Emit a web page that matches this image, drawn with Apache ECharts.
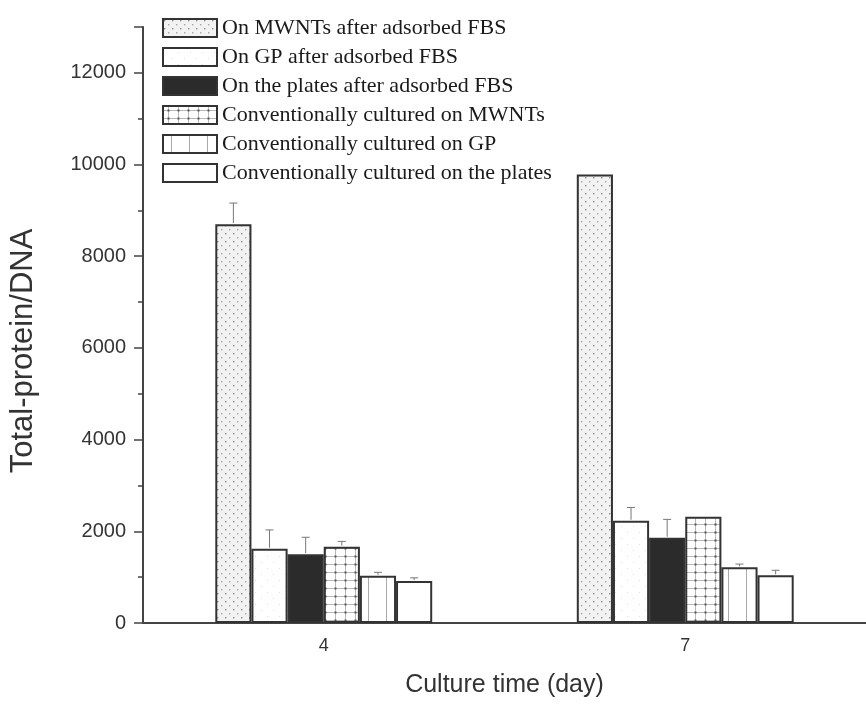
<!DOCTYPE html>
<html>
<head>
<meta charset="utf-8">
<script src="https://cdn.jsdelivr.net/npm/echarts@6/dist/echarts.min.js"></script>
<style>
html,body{margin:0;padding:0;background:#fff;}
#chart{width:866px;height:721px;}
</style>
</head>
<body>
<div id="chart"></div>
<script>
// ---- data ----
const categories = ['4', '7'];
const seriesNames = [
  'On MWNTs after adsorbed FBS',
  'On GP after adsorbed FBS',
  'On the plates after adsorbed FBS',
  'Conventionally cultured on MWNTs',
  'Conventionally cultured on GP',
  'Conventionally cultured on the plates'
];
const mwntFBS = [8700, 9780];
const gpFBS = [1620, 2230];
const platesFBS = [1500, 1860];
const convMWNT = [1665, 2320];
const convGP = [1030, 1215];
const convPlates = [915, 1040];
const errMwntFBS = [460, 0];
const errGpFBS = [410, 290];
const errPlatesFBS = [370, 400];
const errConvMWNT = [115, 0];
const errConvGP = [75, 70];
const errConvPlates = [70, 110];
const yTicks = [0, 2000, 4000, 6000, 8000, 10000, 12000];

const values = [mwntFBS, gpFBS, platesFBS, convMWNT, convGP, convPlates];
const errors = [errMwntFBS, errGpFBS, errPlatesFBS, errConvMWNT, errConvGP, errConvPlates];

// ---- patterns ----
function tile(w, h, bg, draw) {
  const c = document.createElement('canvas');
  c.width = w; c.height = h;
  const g = c.getContext('2d');
  g.fillStyle = bg; g.fillRect(0, 0, w, h);
  draw(g);
  return { image: c, repeat: 'repeat' };
}
const patDots = tile(8, 8, '#f2f2f2', g => {
  g.fillStyle = '#8a8a8a';
  g.fillRect(1, 1, 1.4, 1.4);
  g.fillStyle = '#a8a8a8';
  g.fillRect(5, 5, 1.4, 1.4);
});
const patFaint = tile(12, 12, '#ffffff', g => {
  g.fillStyle = '#e2e2e2';
  g.fillRect(3, 4, 1, 1);
  g.fillRect(9, 10, 1, 1);
});
const patGrid = tile(10, 8, '#ffffff', g => {
  g.fillStyle = '#b8b8b8';
  g.fillRect(0, 4, 10, 1);
  g.fillRect(5, 0, 1, 8);
  g.fillStyle = '#555';
  g.fillRect(4.5, 3.5, 2, 2);
});
const patVert = tile(18, 4, '#ffffff', g => {
  g.fillStyle = '#aaaaaa';
  g.fillRect(8, 0, 1, 4);
});
const fills = [patDots, patFaint, '#2b2b2b', patGrid, patVert, '#ffffff'];

const series = values.map((v, i) => ({
  name: seriesNames[i],
  type: 'bar',
  data: v,
  barGap: '0%',
  barCategoryGap: '40%',
  itemStyle: { color: fills[i], borderColor: '#333', borderWidth: 2 },
  emphasis: { disabled: true },
  z: 2
}));

const errData = [];
values.forEach((v, i) => v.forEach((val, c) => {
  if (errors[i][c] > 0) errData.push([c, val + errors[i][c], val, i]);
}));

series.push({
  type: 'custom',
  name: 'err',
  data: errData,
  z: 3,
  renderItem: function (params, api) {
    const cat = api.value(0);
    const top = api.coord([cat, api.value(1)]);
    const base = api.coord([cat, api.value(2)]);
    const band = api.size([1, 0])[0];
    const bw = band * 0.1;
    const x = top[0] + (api.value(3) - 2.5) * bw;
    const half = 4;
    const st = { stroke: '#777', lineWidth: 1 };
    return {
      type: 'group',
      children: [
        { type: 'line', shape: { x1: x, y1: base[1] - 1, x2: x, y2: top[1] }, style: st },
        { type: 'line', shape: { x1: x - half, y1: top[1], x2: x + half, y2: top[1] }, style: st }
      ]
    };
  }
});

const chart = echarts.init(document.getElementById('chart'), null, { renderer: 'canvas' });
chart.setOption({
  animation: false,
  backgroundColor: '#ffffff',
  grid: { left: 141, top: 27, width: 730, height: 596, containLabel: false },
  legend: {
    data: seriesNames,
    orient: 'vertical',
    left: 157,
    top: 12,
    itemWidth: 54,
    itemHeight: 18,
    itemGap: 7,
    icon: 'rect',
    selectedMode: false,
    textStyle: { fontFamily: 'Liberation Serif', fontSize: 22, color: '#1a1a1a' }
  },
  xAxis: {
    type: 'category',
    data: categories,
    name: 'Culture time (day)',
    nameLocation: 'middle',
    nameGap: 50,
    nameTextStyle: { fontFamily: 'Liberation Sans', fontSize: 25, color: '#333' },
    axisLine: { lineStyle: { color: '#444', width: 2 } },
    axisTick: { alignWithLabel: true, length: 11, lineStyle: { color: '#444', width: 2 } },
    axisLabel: { fontFamily: 'Liberation Sans', fontSize: 18, color: '#333', margin: 14 }
  },
  yAxis: {
    type: 'value',
    min: 0,
    max: 13000,
    interval: 2000,
    name: 'Total-protein/DNA',
    nameLocation: 'middle',
    nameGap: 104,
    nameTextStyle: { fontFamily: 'Liberation Sans', fontSize: 31, color: '#333', padding: [0, 52, 0, 0] },
    axisLine: { show: true, lineStyle: { color: '#444', width: 2 } },
    axisTick: { show: true, length: 9, lineStyle: { color: '#444', width: 1.5 } },
    minorTick: { show: true, splitNumber: 2, length: 5, lineStyle: { color: '#444', width: 1.5 } },
    splitLine: { show: false },
    axisLabel: {
      fontFamily: 'Liberation Sans', fontSize: 20, color: '#333', margin: 17,
      customValues: yTicks,
      formatter: function (v) { return String(v); }
    }
  },
  series: series
});
</script>
</body>
</html>
